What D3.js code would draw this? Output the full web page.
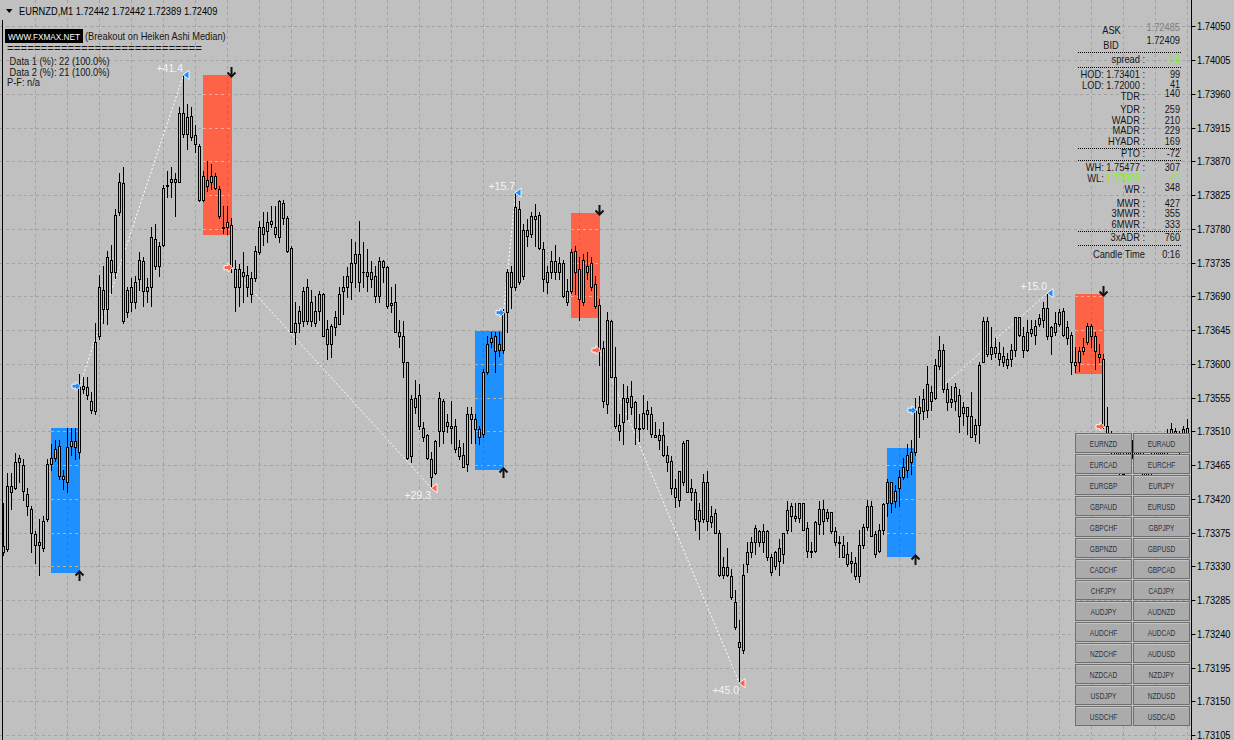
<!DOCTYPE html>
<html><head><meta charset="utf-8">
<script src="https://cdn.jsdelivr.net/npm/d3@7"></script>
<style>
html,body{margin:0;padding:0;background:#c0c0c0;}
svg{display:block;}
text{font-family:"Liberation Sans",Arial,sans-serif;}
</style></head>
<body>
<svg id="chart" width="1234" height="740"></svg>
<script>
// ---------------- DATA ----------------
// prices are given in points (0.00001) above basePrice
const basePrice = 1.73;
const openPts = [
349,353,437,435,469,465,426,406,373,359, 355,393,466,474,490,450,443,490,497,483,
571,569,550,537,637,699,673,739,723,802, 841,669,702,682,713,737,697,702,766,730,
759,837,843,846,843,935,906,930,905,890, 819,845,843,850,833,782,782,785,727,702,
722,718,693,714,749,783,777,790,783,769, 815,795,754,642,655,657,703,657,670,670,
693,646,626,649,653,697,703,709,735,747, 722,723,713,717,690,737,729,678,682,642,
637,602,477,555,559,515,505,473,455,510, 551,517,517,517,489,479,466,533,526,513,
506,589,629,637,619,619,669,723,703,806, 717,779,773,797,799,753,709,723,737,723,
735,697,697,750,726,682,730,735,706,679, 621,547,657,582,519,522,554,543,549,514,
514,533,533,505,505,505,479,470,435,419, 443,498,429,429,390,393,443,389,401,375,
319,329,317,282,229,219,333,349,362,377, 362,377,342,330,355,346,379,410,397,395,
414,381,351,350,386,407,395,402,377,362, 359,346,334,335,317,358,383,410,373,350,
379,414,443,417,435,449,459,482,483,542, 537,539,562,555,597,618,566,549,550,558,
535,542,530,506,519,603,657,613,622,615, 610,606,606,619,662,637,619,641,639,653,
659,675,637,643,653,670,635,639,602,602, 617,629,650,637,613,607,517,503,493,459,
479,462,499,470,486,449,473,457,486,473, 499,486,513,489,506,493,515];
const highPts = [
415,455,455,481,479,473,434,411,377,393, 397,473,493,499,499,459,514,515,515,587,
582,583,563,655,719,730,750,759,806,855, 862,703,715,717,749,743,715,782,786,763,
839,857,862,855,943,986,946,942,919,893, 857,870,866,855,837,810,810,794,739,733,
749,730,722,757,790,802,802,810,810,819, 819,797,757,682,677,703,713,699,690,697,
695,659,653,670,703,717,729,766,763,790, 763,753,737,730,742,739,730,703,706,659,
657,603,559,579,573,522,506,483,499,562, 553,533,550,526,499,495,543,543,533,517,
593,637,643,643,642,673,726,730,829,817, 786,793,803,813,802,763,730,750,759,743,
739,713,753,757,742,746,749,743,717,686, 630,669,659,623,533,573,570,577,550,533,
559,550,542,522,513,522,490,477,446,457, 497,499,446,433,415,453,457,410,406,379,
343,355,326,299,259,333,362,369,385,379, 387,379,346,350,366,375,417,414,415,414,
414,389,363,390,417,419,406,403,383,370, 370,363,349,343,379,387,419,417,377,386,
415,446,443,439,459,475,493,499,555,557, 566,597,570,606,637,626,575,570,575,566,
549,543,562,526,602,662,662,649,635,629, 622,615,626,663,663,649,659,659,659,666,
682,695,650,669,673,674,657,642,622,622, 635,655,653,642,626,613,543,510,499,493,
486,494,505,499,491,486,479,483,491,499, 505,513,521,515,511,517,526];
const lowPts = [
345,350,406,433,442,419,398,349,335,319, 350,390,459,470,446,433,429,479,473,475,
561,553,535,533,633,655,653,695,715,798, 655,663,670,675,699,677,683,677,726,717,
757,823,823,797,842,903,886,899,882,817, 817,830,833,833,795,775,773,722,670,677,
682,690,682,710,746,759,762,783,769,762, 786,749,642,626,642,650,653,650,650,659,
637,606,609,639,653,666,689,686,703,697, 703,697,702,683,683,709,675,669,643,623,
582,473,469,535,513,497,473,435,453,490, 495,509,495,483,473,462,457,495,495,493,
503,586,622,589,610,615,642,675,699,706, 713,757,769,757,753,697,695,715,713,713,
689,679,695,693,659,679,713,699,675,599, 542,535,582,515,499,493,526,533,493,497,
513,513,503,502,486,477,457,426,409,410, 439,429,419,379,366,389,379,383,375,317,
315,317,286,246,175,215,323,343,346,357, 349,339,319,326,319,335,375,377,390,389,
379,343,343,349,373,373,390,375,359,343, 342,330,322,313,309,355,379,370,342,349,
373,397,402,409,410,446,449,453,479,503, 526,529,539,553,593,562,539,542,539,509,
519,506,502,497,495,602,610,606,609,599, 597,595,597,610,637,609,617,637,626,650,
649,633,613,639,650,637,626,586,589,590, 613,626,623,593,602,515,493,473,459,449,
446,454,470,465,454,443,439,451,461,467, 474,481,489,483,481,487,494];
const closePts = [
357,437,429,469,474,430,410,375,359,362, 391,466,474,487,450,446,489,497,489,571,
567,559,539,629,703,673,742,723,799,842, 657,699,682,709,739,697,702,769,730,757,
835,839,846,843,934,906,929,903,893,819, 850,837,850,835,797,781,789,729,702,726,
717,702,715,751,783,773,789,786,773,817, 795,750,643,655,670,697,657,683,655,693,
637,626,651,662,693,703,717,735,747,709, 723,717,723,690,737,729,677,681,643,637,
603,475,553,543,517,502,475,449,497,555, 510,522,515,486,477,463,533,526,513,503,
589,626,634,617,626,669,723,703,809,709, 779,770,797,793,755,713,723,737,723,735,
690,683,749,722,686,739,723,703,677,619, 550,659,583,517,511,555,549,557,515,513,
535,539,506,503,499,479,469,434,422,457, 495,429,435,393,405,443,390,397,375,319,
329,319,289,249,223,319,349,362,381,362, 377,342,323,349,337,375,405,397,395,414,
379,350,349,389,407,390,402,377,363,361, 343,333,337,317,358,383,410,371,347,379,
413,443,415,430,449,463,479,469,539,535, 553,573,550,598,619,566,549,553,569,530,
543,530,503,519,598,657,613,623,615,607, 603,599,618,662,639,619,643,646,650,661,
675,637,649,655,669,639,649,602,599,617, 623,650,637,617,609,517,503,486,466,486,
453,489,475,493,459,479,446,479,466,493, 479,506,493,510,486,513,499];

const tickLabels = ["1.74050","1.74005","1.73960","1.73915","1.73870","1.73825","1.73780",
"1.73735","1.73690","1.73645","1.73600","1.73555","1.73510","1.73465","1.73420","1.73375",
"1.73330","1.73285","1.73240","1.73195","1.73150","1.73105"];

// breakout boxes
const boxStart = [12, 50, 118, 142, 221, 268];
const boxEnd   = [19, 57, 125, 149, 228, 275];
const boxHigh  = [1.73515, 1.73986, 1.73645, 1.73802, 1.73488, 1.73694];
const boxLow   = [1.73322, 1.73773, 1.73459, 1.73662, 1.73343, 1.73587];
const boxType  = ["buy","sell","buy","sell","buy","sell"];

// zigzag from signal bar (close) to extreme bar
const zigFrom   = [19, 57, 125, 149, 228, 275];
const zigTo     = [45, 107, 128, 184, 261, 286];
const zigLabels = ["+41.4","+29.3","+15.7","+45.0","+15.0",""];

const headerSymbol = "EURNZD,M1";
const headerOHLC = ["1.72442","1.72442","1.72389","1.72409"];
const infoLines = [" Data 1 (%): 22 (100.0%)"," Data 2 (%): 21 (100.0%)","P-F: n/a"];

const askValue = "1.72485", bidValue = "1.72409";
const infoLabels = ["spread :","HOD: 1.73401 :","LOD: 1.72000 :","TDR :","YDR :","WADR :","MADR :",
  "HYADR :","PTO :","WH: 1.75477 :","WL: 1.72000 :","WR :","MWR :","3MWR :","6MWR :","3xADR :","Candle Time"];
const infoValues = ["7.6","99","41","140","259","210","229","169","-72","307","41","348","427","355","333","760","0:16"];

const pairs = ["EURNZD","EURAUD","EURCAD","EURCHF","EURGBP","EURJPY","GBPAUD","EURUSD",
 "GBPCHF","GBPJPY","GBPNZD","GBPUSD","CADCHF","GBPCAD","CHFJPY","CADJPY","AUDJPY","AUDNZD",
 "AUDCHF","AUDCAD","NZDCHF","AUDUSD","NZDCAD","NZDJPY","USDJPY","NZDUSD","USDCHF","USDCAD"];

// ---------------- LAYOUT / STYLE ----------------
const W = 1234, H = 740;
const BG = "#c0c0c0";
const GRID = "#a2a2a2";
const BLUE = "#1e90ff", RED = "#ff6347";
const GREEN = "#7cfc00";
const TXT = "#161616";
const FS = "10.2px";
const FSV = "10px";
const SQ = 0.91;          // horizontal squeeze to mimic the narrow terminal font
const axisX = 1191.5;

const svg = d3.select("#chart");
const n = closePts.length;
const px = p => basePrice + p / 100000;
const bars = d3.range(n).map(i => ({i, o: px(openPts[i]), h: px(highPts[i]), l: px(lowPts[i]), c: px(closePts[i])}));

const x = d3.scaleLinear().domain([0, 296]).range([3.5, 1187.5]);
const y = d3.scaleLinear().domain([1.73105, 1.74050]).range([735.7, 26.9]);
const ticks = tickLabels.map(Number);
const snap = v => Math.round(v - 0.5) + 0.5;

function squeeze(sel, f) {
  sel.each(function () {
    const L = this.getComputedTextLength();
    if (L > 0) d3.select(this).attr("textLength", L * f).attr("lengthAdjust", "spacingAndGlyphs");
  });
  return sel;
}

svg.append("rect").attr("width", W).attr("height", H).attr("fill", BG);

// grid
const gGrid = svg.append("g").attr("stroke", GRID).attr("stroke-width", 1).attr("stroke-dasharray", "3,3");
gGrid.selectAll("line.h").data(ticks).join("line").attr("class","h")
  .attr("x1", 0).attr("x2", axisX).attr("y1", d => snap(y(d))).attr("y2", d => snap(y(d)));
const vIdx = d3.range(8, n, 8);
gGrid.selectAll("line.v").data(vIdx).join("line").attr("class","v")
  .attr("x1", d => snap(x(d))).attr("x2", d => snap(x(d))).attr("y1", 0).attr("y2", H);

// left border
svg.append("line").attr("x1", 2.5).attr("x2", 2.5).attr("y1", 20).attr("y2", H).attr("stroke", "#000");

// boxes
const boxes = boxStart.map((s, k) => ({s, e: boxEnd[k], hi: boxHigh[k], lo: boxLow[k], t: boxType[k]}));
const gBox = svg.append("g");
boxes.forEach(b => {
  const x0 = snap(x(b.s)) - 0.5, x1 = snap(x(b.e)) + 0.5;
  const y0 = Math.round(y(b.hi)), y1 = Math.round(y(b.lo));
  gBox.append("rect").attr("x", x0).attr("y", y0).attr("width", x1 - x0).attr("height", y1 - y0)
    .attr("fill", b.t === "buy" ? BLUE : RED);
  ticks.filter(t => y(t) > y0 && y(t) < y1).forEach(t => {
    gBox.append("line").attr("x1", x0).attr("x2", x1).attr("y1", snap(y(t))).attr("y2", snap(y(t)))
      .attr("stroke", b.t === "buy" ? "#dca676" : "#f6ad98").attr("stroke-dasharray", "3,3");
  });
  vIdx.filter(v => x(v) > x0 && x(v) < x1).forEach(v => {
    gBox.append("line").attr("x1", snap(x(v))).attr("x2", snap(x(v))).attr("y1", y0).attr("y2", y1)
      .attr("stroke", b.t === "buy" ? "#1a7fe6" : "#e8553a").attr("stroke-dasharray", "3,3");
  });
});

// zigzag dotted lines
const gZig = svg.append("g");
zigFrom.forEach((f, k) => {
  const t = zigTo[k];
  const up = boxType[k] === "buy";
  const yEnd = up ? y(bars[t].h) : y(bars[t].l);
  gZig.append("line").attr("x1", x(f)).attr("y1", y(bars[f].c)).attr("x2", x(t)).attr("y2", yEnd)
    .attr("stroke", "#ffffff").attr("stroke-width", 1).attr("stroke-dasharray", "2,2");
});

// candles
const gC = svg.append("g");
bars.forEach(b => {
  const cx = snap(x(b.i));
  const yt = snap(Math.min(y(b.o), y(b.c))), yb = snap(Math.max(y(b.o), y(b.c)));
  const yh = snap(y(b.h)), yl = snap(y(b.l));
  gC.append("line").attr("x1", cx).attr("x2", cx).attr("y1", yh - 0.5).attr("y2", yl + 0.5).attr("stroke", "#000");
  if (yb - yt < 1) {
    gC.append("line").attr("x1", cx - 1.5).attr("x2", cx + 1.5).attr("y1", yt).attr("y2", yt).attr("stroke", "#000");
  } else {
    gC.append("rect").attr("x", cx - 1).attr("y", yt).attr("width", 2).attr("height", yb - yt)
      .attr("fill", BG).attr("stroke", "#000");
  }
});

// signal arrows (entry), extreme triangles and labels
const gSig = svg.append("g");
zigFrom.forEach((f, k) => {
  const up = boxType[k] === "buy";
  const col = up ? BLUE : RED;
  const ax = x(f) - 3.5, ay = y(bars[f].c);
  gSig.append("path")
    .attr("d", `M${ax-4},${ay-2}H${ax}V${ay-4.5}L${ax+4.5},${ay}L${ax},${ay+4.5}V${ay+2}H${ax-4}Z`)
    .attr("fill", col).attr("stroke", "#ffffff").attr("stroke-width", 0.9);
  const t = zigTo[k];
  const tx = x(t), ty = up ? y(bars[t].h) : y(bars[t].l);
  gSig.append("path").attr("d", `M${tx-0.5},${ty}L${tx+5.5},${ty-4.5}L${tx+5.5},${ty+4.5}Z`)
    .attr("fill", col).attr("stroke", "#ffffff").attr("stroke-width", 0.9);
  if (zigLabels[k]) {
    gSig.append("text").attr("x", tx - 0.5).attr("y", up ? ty - 3 : ty + 11)
      .attr("text-anchor", "end").attr("font-size", "10.5px").attr("fill", "#f4f4f4").text(zigLabels[k]);
  }
});

// black breakout arrows at box corners
boxes.forEach(b => {
  const cx = snap(x(b.e));
  const g = svg.append("g").attr("stroke", "#111").attr("stroke-width", 2).attr("fill", "none");
  if (b.t === "buy") {
    const cy = Math.round(y(b.lo)) + 2;
    g.append("path").attr("d", `M${cx-4},${cy+0.5}L${cx},${cy-3.5}L${cx+4},${cy+0.5}`);
    g.append("line").attr("x1", cx).attr("x2", cx).attr("y1", cy - 3).attr("y2", cy + 6);
  } else {
    const cy = Math.round(y(b.hi)) - 2;
    g.append("path").attr("d", `M${cx-4},${cy-0.5}L${cx},${cy+3.5}L${cx+4},${cy-0.5}`);
    g.append("line").attr("x1", cx).attr("x2", cx).attr("y1", cy - 6).attr("y2", cy + 3);
  }
});

// header texts
const mt = [];
svg.append("path").attr("d", "M6,9L12.5,9L9.25,13Z").attr("fill", "#000");
mt.push(svg.append("text").attr("x", 19).attr("y", 14.5).attr("font-size", FS).attr("fill", "#000")
  .text(headerSymbol + "  " + headerOHLC.join(" ")));
svg.append("rect").attr("x", 5).attr("y", 29).attr("width", 78).attr("height", 14).attr("fill", "#000");
svg.append("text").attr("x", 8).attr("y", 40).attr("font-size", "9.3px").attr("fill", "#fff")
  .attr("textLength", 72).attr("lengthAdjust", "spacingAndGlyphs").text("WWW.FXMAX.NET");
mt.push(svg.append("text").attr("x", 85).attr("y", 40).attr("font-size", FS).attr("fill", TXT)
  .text("(Breakout on Heiken Ashi Median)"));
svg.append("text").attr("x", 7).attr("y", 52).attr("font-size", FS).attr("fill", TXT)
  .attr("textLength", 195).attr("lengthAdjust", "spacingAndGlyphs").text("=".repeat(29));
const infoY = [65, 75.5, 86];
infoLines.forEach((s, k) => {
  mt.push(svg.append("text").attr("x", 7).attr("y", infoY[k]).attr("font-size", FS).attr("fill", TXT)
    .attr("xml:space", "preserve").style("white-space", "pre").text(s));
});

// right info panel
const gP = svg.append("g").attr("font-size", FS);
mt.push(gP.append("text").attr("x", 1111.5).attr("y", 34).attr("text-anchor", "middle").attr("fill", TXT).text("ASK"));
mt.push(gP.append("text").attr("x", 1111).attr("y", 49).attr("text-anchor", "middle").attr("fill", TXT).text("BID"));
mt.push(gP.append("text").attr("x", 1180).attr("y", 30.8).attr("text-anchor", "end").attr("fill", "#7e7e7e").text(askValue));
mt.push(gP.append("text").attr("x", 1180).attr("y", 44).attr("text-anchor", "end").attr("fill", TXT).text(bidValue));
const labelY = [62.8,77.8,88.8,99.8,112.8,123.8,133.8,144.8,156.8,170.8,181.8,192.8,206.8,216.8,227.8,240.8,257.8];
const valueY = [62.8,77.8,87.5,96.5,112.8,123.8,133.8,144.8,156.8,170.8,181.8,190.8,206.8,216.8,227.8,240.8,257.8];
infoLabels.forEach((s, k) => {
  const t = gP.append("text").attr("x", 1145).attr("y", labelY[k]).attr("text-anchor", "end").attr("fill", TXT);
  if (s.startsWith("WL:")) {
    t.append("tspan").text("WL: ");
    t.append("tspan").attr("fill", GREEN).text(s.slice(4));
  } else t.text(s);
  mt.push(t);
  const green = (k === 0 || s.startsWith("WL:"));
  mt.push(gP.append("text").attr("x", 1180).attr("y", valueY[k]).attr("text-anchor", "end")
    .attr("font-size", FSV).attr("fill", green ? GREEN : TXT).text(infoValues[k]));
});
[52.5, 67.5, 148.5, 160.5, 231.5, 245.5].forEach(sy => {
  gP.append("line").attr("x1", 1078).attr("x2", 1181).attr("y1", sy).attr("y2", sy)
    .attr("stroke", "#000").attr("stroke-dasharray", "1,1");
});

// pair buttons
const gB = svg.append("g");
pairs.forEach((p, k) => {
  const col = k % 2, row = Math.floor(k / 2);
  const bx = col === 0 ? 1075.5 : 1133.5, by = 433.5 + 21 * row;
  gB.append("rect").attr("x", bx).attr("y", by).attr("width", 56).attr("height", 19)
    .attr("fill", "#ababab").attr("stroke", "#6f6f6f");
  gB.append("line").attr("x1", bx + 1).attr("x2", bx + 55).attr("y1", by + 1).attr("y2", by + 1).attr("stroke", "#c4c4c4");
  squeeze(gB.append("text").attr("x", bx + 28).attr("y", by + 13.3).attr("text-anchor", "middle")
    .attr("font-size", "8.2px").attr("fill", "#2c3344").text(p), 0.8);
});

// price axis
svg.append("line").attr("x1", axisX).attr("x2", axisX).attr("y1", 0).attr("y2", H).attr("stroke", "#000");
const gA = svg.append("g");
ticks.forEach((t, k) => {
  const ty = snap(y(t));
  gA.append("line").attr("x1", axisX).attr("x2", axisX + 4).attr("y1", ty).attr("y2", ty).attr("stroke", "#000");
  mt.push(gA.append("text").attr("x", 1197).attr("y", ty + 3.8).attr("font-size", FS).attr("fill", "#000").text(tickLabels[k]));
});

mt.forEach(s => squeeze(s, SQ));
</script>
</body></html>
